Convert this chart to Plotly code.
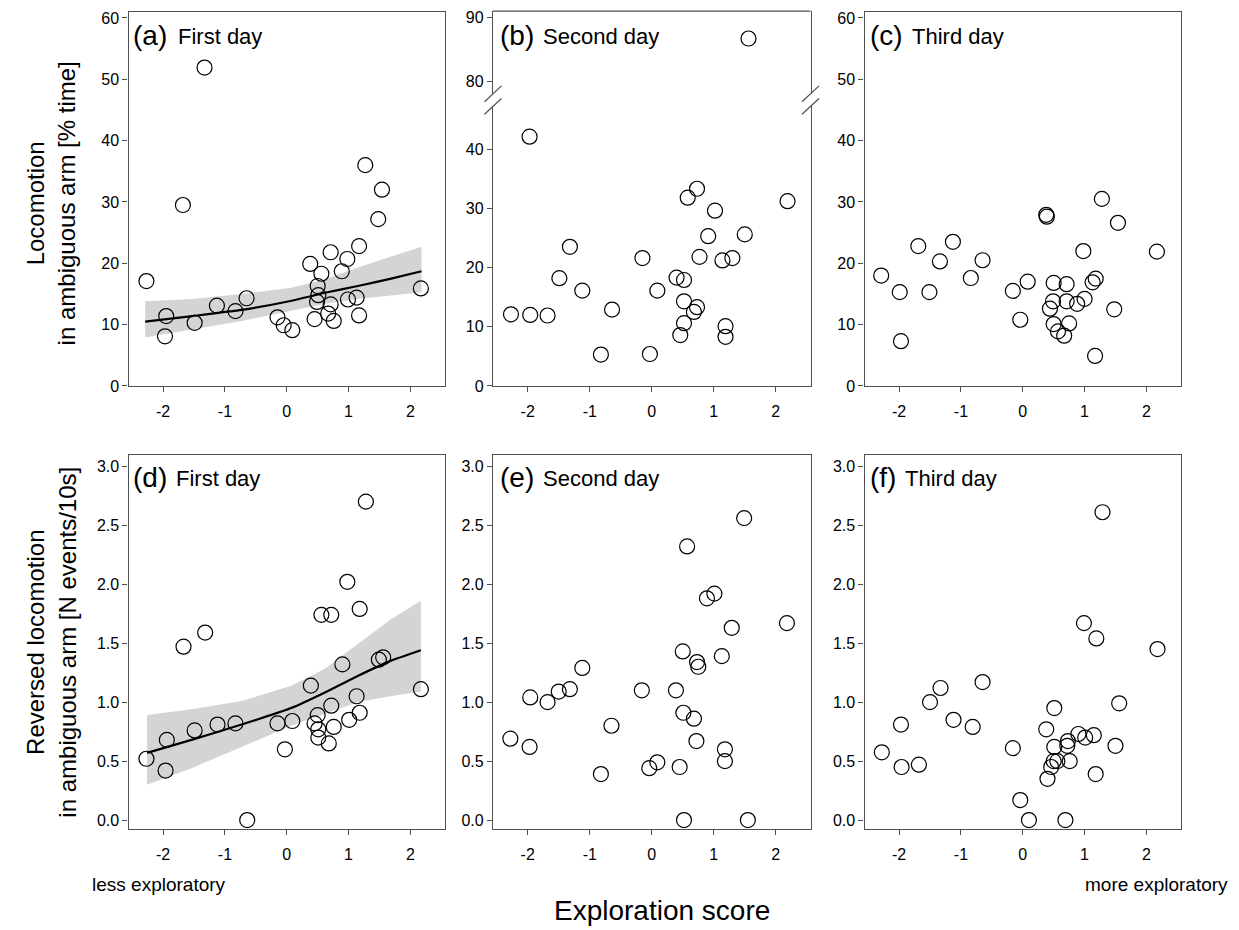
import plotly.graph_objects as go

# ---------------- data ----------------
a_x = [-2.27, -1.95, -1.97, -1.68, -1.49, -1.33, -1.13, -0.83, -0.65, -0.15, -0.05, 0.09,
       0.38, 0.45, 0.50, 0.51, 0.49, 0.56, 0.67, 0.71, 0.71, 0.76, 0.89, 0.98, 0.99, 1.13,
       1.17, 1.17, 1.27, 1.48, 1.54, 2.17]
a_y = [17.1, 11.4, 8.1, 29.5, 10.3, 51.9, 13.1, 12.2, 14.3, 11.2, 9.9, 9.1,
       19.9, 10.9, 16.3, 14.8, 13.7, 18.3, 11.8, 13.3, 21.8, 10.6, 18.7, 20.7, 14.1, 14.4,
       11.5, 22.8, 36.0, 27.2, 32.0, 15.9]
fit_a_x = [-2.29, -1.53, -0.73, 0.08, 0.62, 1.15, 1.69, 2.18]
fit_a_y = [10.5, 11.4, 12.4, 13.9, 15.2, 16.3, 17.5, 18.7]
band_a_up = [13.8, 14.2, 15.0, 16.0, 17.4, 19.3, 21.1, 22.7]
band_a_lo = [7.9, 9.2, 10.6, 12.3, 13.4, 14.2, 14.8, 15.3]

b_x = [-2.27, -1.96, -1.68, -1.97, -1.49, -1.32, -1.12, -0.82, -0.64, -0.15, -0.03, 0.09,
       0.40, 0.52, 0.52, 0.52, 0.46, 0.58, 0.73, 0.68, 0.73, 0.77, 0.91, 1.02, 1.14, 1.30,
       1.19, 1.19, 1.50, 2.19, 1.56]
b_y = [12.1, 12.0, 11.9, 42.1, 18.2, 23.5, 16.1, 5.3, 12.9, 21.6, 5.4, 16.1,
       18.3, 17.9, 14.3, 10.6, 8.6, 31.8, 33.3, 12.5, 13.3, 21.8, 25.3, 29.6, 21.2, 21.6,
       10.1, 8.3, 25.6, 31.2, 86.7]

c_x = [-2.29, -1.99, -1.97, -1.69, -1.51, -1.34, -1.13, -0.84, -0.65, -0.16, -0.04, 0.08,
       0.38, 0.39, 0.44, 0.49, 0.50, 0.50, 0.57, 0.67, 0.71, 0.71, 0.75, 0.88, 1.00, 0.98,
       1.13, 1.18, 1.17, 1.28, 1.48, 1.54, 2.17]
c_y = [18.0, 15.3, 7.3, 22.8, 15.3, 20.3, 23.5, 17.6, 20.5, 15.5, 10.8, 17.0,
       27.9, 27.6, 12.6, 13.8, 16.8, 10.1, 8.9, 8.2, 16.6, 13.8, 10.2, 13.4, 14.2, 22.0,
       16.9, 17.5, 4.9, 30.5, 12.5, 26.6, 21.9]

d_x = [-2.27, -1.94, -1.96, -1.67, -1.49, -1.32, -1.12, -0.83, -0.64, -0.15, -0.03, 0.09,
       0.39, 0.45, 0.50, 0.51, 0.51, 0.56, 0.68, 0.72, 0.72, 0.76, 0.90, 0.98, 1.01, 1.13,
       1.18, 1.18, 1.28, 1.49, 1.56, 2.17]
d_y = [0.52, 0.68, 0.42, 1.47, 0.76, 1.59, 0.81, 0.82, 0.0, 0.82, 0.60, 0.84,
       1.14, 0.82, 0.89, 0.77, 0.70, 1.74, 0.65, 1.74, 0.97, 0.79, 1.32, 2.02, 0.85, 1.05,
       0.91, 1.79, 2.70, 1.36, 1.38, 1.11]
fit_d_x = [-2.26, -1.54, -0.73, 0.07, 0.61, 1.14, 1.68, 2.17]
fit_d_y = [0.57, 0.68, 0.81, 0.95, 1.08, 1.22, 1.35, 1.44]
band_d_up = [0.89, 0.94, 1.01, 1.14, 1.28, 1.49, 1.70, 1.86]
band_d_lo = [0.30, 0.44, 0.62, 0.80, 0.90, 1.00, 1.05, 1.09]

e_x = [-2.28, -1.97, -1.96, -1.68, -1.50, -1.32, -1.12, -0.82, -0.65, -0.16, -0.04, 0.09,
       0.39, 0.45, 0.50, 0.51, 0.52, 0.57, 0.68, 0.72, 0.73, 0.75, 0.89, 1.01, 1.13, 1.18,
       1.18, 1.29, 1.49, 1.55, 2.18]
e_y = [0.69, 0.62, 1.04, 1.00, 1.09, 1.11, 1.29, 0.39, 0.80, 1.10, 0.44, 0.49,
       1.10, 0.45, 1.43, 0.91, 0.0, 2.32, 0.86, 0.67, 1.34, 1.30, 1.88, 1.92, 1.39, 0.60,
       0.50, 1.63, 2.56, 0.0, 1.67]

f_x = [-2.28, -1.97, -1.96, -1.68, -1.50, -1.33, -1.12, -0.81, -0.65, -0.16, -0.04, 0.10,
       0.38, 0.40, 0.46, 0.50, 0.51, 0.51, 0.56, 0.69, 0.72, 0.73, 0.76, 0.90, 1.01, 0.99,
       1.15, 1.18, 1.19, 1.29, 1.50, 1.56, 2.18]
f_y = [0.575, 0.81, 0.45, 0.47, 1.00, 1.12, 0.85, 0.79, 1.17, 0.61, 0.17, 0.0,
       0.77, 0.35, 0.45, 0.50, 0.95, 0.62, 0.50, 0.0, 0.63, 0.67, 0.50, 0.73, 0.70, 1.67,
       0.72, 0.39, 1.54, 2.61, 0.63, 0.99, 1.45]

x_ticks = [-2, -1, 0, 1, 2]
x_tick_text = ["-2", "-1", "0", "1", "2"]
top_y_ticks = [0, 10, 20, 30, 40, 50, 60]
b_low_ticks = [0, 10, 20, 30, 40]
b_up_ticks = [80, 90]
bot_y_ticks = [0.0, 0.5, 1.0, 1.5, 2.0, 2.5, 3.0]
panel_letters = ["(a)", "(b)", "(c)", "(d)", "(e)", "(f)"]
panel_days = ["First day", "Second day", "Third day", "First day", "Second day", "Third day"]
y_title_top = "Locomotion<br>in ambiguous arm [% time]"
y_title_bot = "Reversed locomotion<br>in ambiguous arm [N events/10s]"
x_title = "Exploration score"
left_note = "less exploratory"
right_note = "more exploratory"

# ---------------- layout helpers ----------------
W, H = 1239, 930
FONT = "Arial, Liberation Sans, sans-serif"
AX = "#505050"


def px(x):
    return x / W


def py(y):
    return 1 - y / H


cols = [(128.5, 445.0), (493.0, 810.5), (864.5, 1181.0)]
rows = [(9.5, 388.0), (458.3, 836.5)]

fig = go.Figure()

marker = dict(symbol="circle-open", size=15, color="black", line=dict(width=1.2, color="black"))


def add_points(xs, ys, xa, ya):
    fig.add_trace(go.Scatter(x=xs, y=ys, mode="markers", marker=marker,
                             xaxis=xa, yaxis=ya, showlegend=False, hoverinfo="x+y"))


def add_fit(fx, fy, up, lo, xa, ya):
    fig.add_trace(go.Scatter(x=fx + fx[::-1], y=up + lo[::-1], fill="toself",
                             fillcolor="#d4d4d4", line=dict(width=0),
                             mode="lines", xaxis=xa, yaxis=ya, showlegend=False,
                             hoverinfo="skip"))
    fig.add_trace(go.Scatter(x=fx, y=fy, mode="lines",
                             line=dict(color="black", width=2.2, shape="spline", smoothing=0.4),
                             xaxis=xa, yaxis=ya, showlegend=False))


add_fit(fit_a_x, fit_a_y, band_a_up, band_a_lo, "x", "y")
add_points(a_x, a_y, "x", "y")
b_low = [(x, y) for x, y in zip(b_x, b_y) if y < 60]
b_high = [(x, y) for x, y in zip(b_x, b_y) if y >= 60]
add_points([p[0] for p in b_low], [p[1] for p in b_low], "x2", "y2")
add_points([p[0] for p in b_high], [p[1] for p in b_high], "x2", "y7")
add_points(c_x, c_y, "x3", "y3")
add_fit(fit_d_x, fit_d_y, band_d_up, band_d_lo, "x4", "y4")
add_points(d_x, d_y, "x4", "y4")
add_points(e_x, e_y, "x5", "y5")
add_points(f_x, f_y, "x6", "y6")

tickfont = dict(family=FONT, size=16, color="black")
common_x = dict(range=[-2.56, 2.56], tickvals=x_ticks, ticktext=x_tick_text, ticks="outside",
                ticklen=5, tickcolor=AX, showline=True, linecolor=AX, linewidth=1.3,
                showgrid=False, zeroline=False, tickfont=tickfont, ticklabelstandoff=6)
common_y = dict(ticks="outside", ticklen=5, tickcolor=AX, showline=True, linecolor=AX,
                linewidth=1.3, showgrid=False, zeroline=False, tickfont=tickfont)

layout = dict(width=W, height=H, margin=dict(l=0, r=0, t=0, b=0),
              paper_bgcolor="white", plot_bgcolor="white", showlegend=False,
              font=dict(family=FONT, color="black"))

b_break_lo = 104.7   # pixel y where lower segment of (b) ends
b_break_hi = 92.0    # pixel y where upper segment of (b) starts

for i in range(6):
    r, c = divmod(i, 3)
    n = i + 1
    xk = "xaxis" if n == 1 else f"xaxis{n}"
    yk = "yaxis" if n == 1 else f"yaxis{n}"
    ya_name = "y" if n == 1 else f"y{n}"
    xa_name = "x" if n == 1 else f"x{n}"
    x0, x1 = cols[c]
    y0, y1 = rows[r]
    layout[xk] = dict(common_x, domain=[px(x0), px(x1)], anchor=ya_name, mirror=(n != 2))
    if r == 0:
        if n == 2:
            layout[yk] = dict(common_y, domain=[py(y1), py(b_break_lo)], anchor=xa_name,
                              range=[0, (y1 - b_break_lo) / 6.0], tickvals=b_low_ticks,
                              mirror=True)
        else:
            layout[yk] = dict(common_y, domain=[py(y1), py(y0)], anchor=xa_name,
                              range=[0, 60.9], tickvals=top_y_ticks, mirror=True)
    else:
        layout[yk] = dict(common_y, domain=[py(y1), py(y0)], anchor=xa_name,
                          range=[-0.073, 3.092], tickvals=bot_y_ticks, tickformat=".1f",
                          mirror=True)

# upper segment of broken axis in panel (b)
layout["yaxis7"] = dict(common_y, domain=[py(b_break_hi), py(8.3)], anchor="x2",
                        range=[78, 91], tickvals=b_up_ticks, mirror=True)

fig.update_layout(**layout)

shapes = []
shapes.append(dict(type="line", xref="paper", yref="paper", x0=px(cols[1][0]), x1=px(cols[1][1]),
                   y0=py(8.3), y1=py(8.3), line=dict(color=AX, width=1.3)))
for xa in cols[1]:
    for yc in (b_break_hi, b_break_lo):
        shapes.append(dict(type="line", xref="paper", yref="paper",
                           x0=px(xa - 8.5), y0=py(yc + 8), x1=px(xa + 8.5), y1=py(yc - 8),
                           line=dict(color=AX, width=1.2)))
fig.update_layout(shapes=shapes)

ann = []
letter_pos = [(131, 33), (498, 33), (868, 33), (131, 481), (498, 481), (868, 481)]
day_pos = [(176, 34), (541, 34), (910, 34), (174, 482), (541, 482), (903, 482)]
for i in range(6):
    lx, ly = letter_pos[i]
    dx, dy = day_pos[i]
    ann.append(dict(text=panel_letters[i], x=px(lx), y=py(ly), xref="paper", yref="paper",
                    xanchor="left", yanchor="middle", showarrow=False,
                    font=dict(family=FONT, size=28, color="black")))
    ann.append(dict(text=panel_days[i], x=px(dx), y=py(dy), xref="paper", yref="paper",
                    xanchor="left", yanchor="middle", showarrow=False,
                    font=dict(family=FONT, size=22, color="black")))

ann.append(dict(text=y_title_top, x=px(51), y=py(203), xref="paper", yref="paper",
                textangle=-90, showarrow=False, xanchor="center", yanchor="middle",
                font=dict(family=FONT, size=24, color="black")))
ann.append(dict(text=y_title_bot, x=px(51), y=py(648), xref="paper", yref="paper",
                textangle=-90, showarrow=False, xanchor="center", yanchor="middle",
                font=dict(family=FONT, size=24, color="black")))
ann.append(dict(text=x_title, x=px(662), y=py(919), xref="paper", yref="paper",
                showarrow=False, xanchor="center", yanchor="middle",
                font=dict(family=FONT, size=28, color="black")))
ann.append(dict(text=left_note, x=px(159), y=py(893), xref="paper", yref="paper",
                showarrow=False, xanchor="center", yanchor="middle",
                font=dict(family=FONT, size=19, color="black")))
ann.append(dict(text=right_note, x=px(1156), y=py(893), xref="paper", yref="paper",
                showarrow=False, xanchor="center", yanchor="middle",
                font=dict(family=FONT, size=19, color="black")))
fig.update_layout(annotations=ann)

fig.write_html("out.html", config={"displayModeBar": False},
               post_script="document.body.style.margin='0px';")
